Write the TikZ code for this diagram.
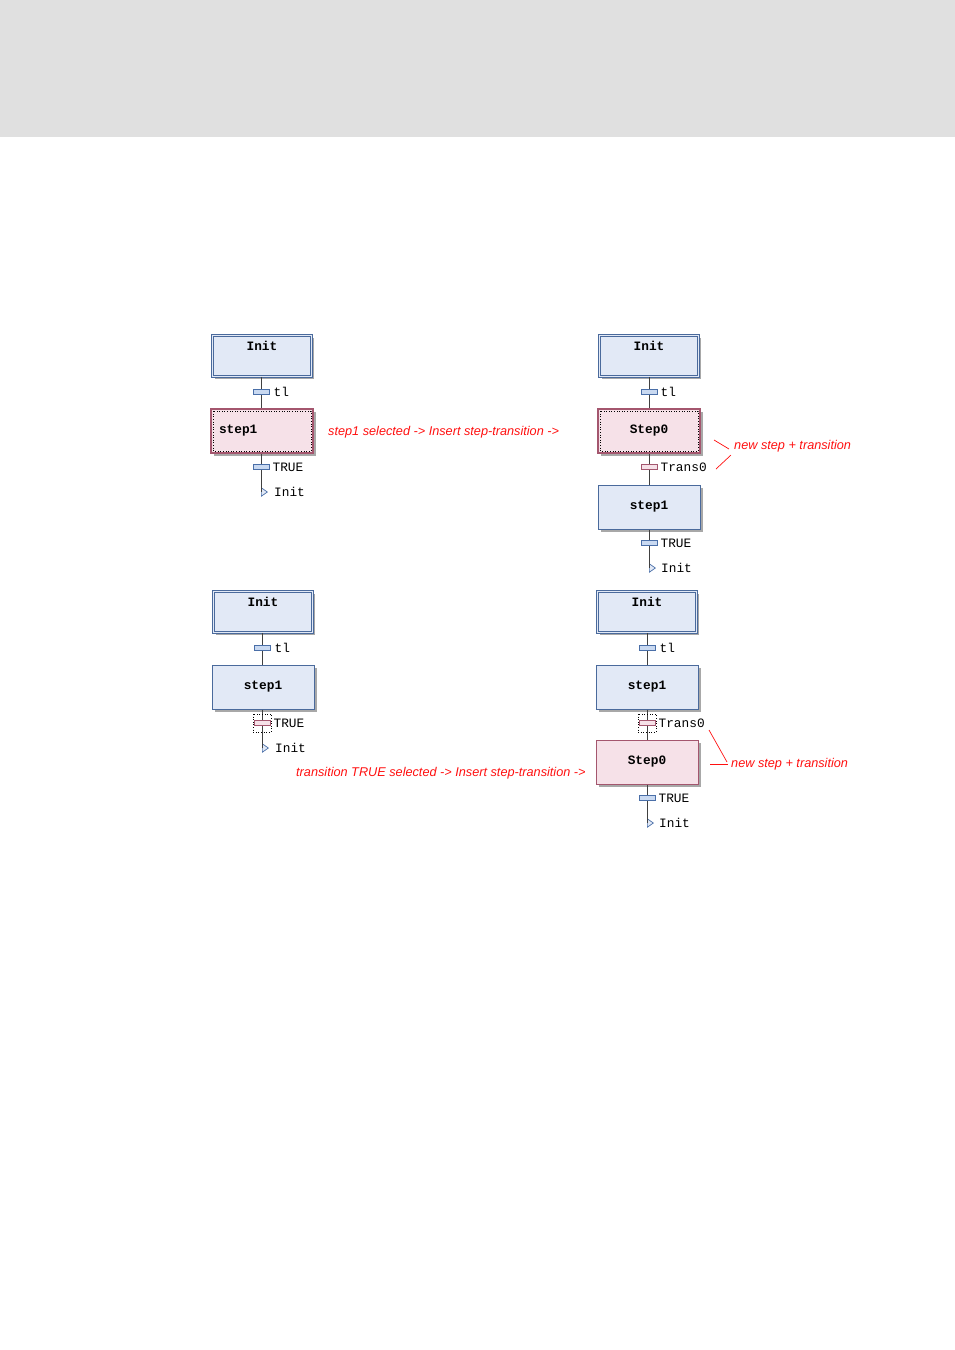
\documentclass[tikz,border=0pt]{standalone}
\usepackage{fontspec}
\setmainfont{Liberation Sans}
\newfontfamily\monof{Liberation Mono}
\usetikzlibrary{shadows,shapes.geometric,calc}
\definecolor{headgray}{HTML}{E0E0E0}
\definecolor{bfill}{HTML}{E2E9F6}
\definecolor{bborder}{HTML}{4A6A9C}
\definecolor{pfill}{HTML}{F6E1E8}
\definecolor{pborder}{HTML}{A4566E}
\definecolor{shgray}{HTML}{A8A8A8}
\definecolor{tfill}{HTML}{C9D9F1}
\definecolor{tborder}{HTML}{4A6FA8}
\definecolor{annred}{HTML}{FF1010}
\definecolor{linegray}{HTML}{404040}
\begin{document}
\begin{tikzpicture}[x=1pt,y=-1pt,
  box/.style={minimum width=102pt, minimum height=44pt, inner sep=0pt,
    font=\monof\bfseries\fontsize{12.8}{14}\selectfont,
    drop shadow={shadow xshift=2.5pt,shadow yshift=-2.5pt,fill=shgray,opacity=1}},
  initbox/.style={box, minimum width=99pt, minimum height=41pt, fill=bfill, draw=bborder, line width=0.9pt, double=bfill, double distance=1.6pt,
    text height=9pt, text depth=20pt},
  bluebox/.style={box, fill=bfill, draw=bborder, line width=1pt},
  pinkbox/.style={box, fill=pfill, draw=pborder, line width=1pt},
  selbox/.style={box, fill=pfill, draw=pborder, line width=1.6pt},
  trans/.style={draw=tborder, fill=tfill, line width=0.8pt, minimum width=16pt, minimum height=5.5pt, inner sep=0pt},
  transsel/.style={draw=pborder, fill=pfill, line width=0.8pt, minimum width=16pt, minimum height=5.5pt, inner sep=0pt},
  jump/.style={isosceles triangle, isosceles triangle apex angle=70, draw=tborder, fill=bfill, line width=0.7pt,
    minimum height=6pt, minimum width=8pt, inner sep=0pt, anchor=west},
  tlabel/.style={anchor=west, inner sep=0pt, font=\monof\fontsize{12.8}{14}\selectfont},
  ann/.style={annred, font=\itshape\fontsize{12.7}{14}\selectfont, inner sep=0pt},
  annline/.style={annred, line width=0.7pt},
  flow/.style={linegray, line width=1pt},
  selframe/.style={black, dotted, line width=0.6pt}
]
\useasboundingbox (0,0) rectangle (955,1350);
\fill[headgray] (0,0) rectangle (955,137);

% ---------- top-left ----------
\node[initbox] (a1) at (262,356) {Init};
\node[selbox, text width=86pt, align=left] (a2) at (262,431) {step1};
\draw[selframe] ($(a2.north west)+(3,3)$) rectangle ($(a2.south east)+(-3,-3)$);
\coordinate (aj) at (261,492);
\node[jump] (a5) at (aj) {};
\draw[flow] (a1.south -| aj) -- (a2.north -| aj);
\draw[flow] (a2.south -| aj) -- (a5.west);
\node[trans] (a3) at (261,392) {};
\node[trans] (a4) at (261,467) {};
\node[tlabel] (a3l) at ([xshift=4pt]a3.east) {tl};
\node[tlabel] (a4l) at ([xshift=3pt]a4.east) {TRUE};
\node[tlabel] (a5l) at (274,492) {Init};
\node[ann, anchor=west] (n1) at (328,432) {step1 selected -> Insert step-transition ->};

% ---------- top-right ----------
\node[initbox] (b1) at (649,356) {Init};
\node[selbox] (b2) at (649,431) {Step0};
\draw[selframe] ($(b2.north west)+(3,3)$) rectangle ($(b2.south east)+(-3,-3)$);
\node[bluebox] (b3) at (649,507) {step1};
\coordinate (bj) at (649,568);
\node[jump] (b6) at (bj) {};
\draw[flow] (b1.south) -- (b2.north);
\draw[flow] (b2.south) -- (b3.north);
\draw[flow] (b3.south) -- (b6.west);
\node[trans] (b4) at (649,392) {};
\node[transsel] (b5) at (649,467) {};
\node[trans] (b7) at (649,543) {};
\node[tlabel] (b4l) at ([xshift=3pt]b4.east) {tl};
\node[tlabel] (b5l) at ([xshift=3pt]b5.east) {Trans0};
\node[tlabel] (b7l) at ([xshift=3pt]b7.east) {TRUE};
\node[tlabel] (b6l) at (661,568) {Init};
\node[ann, anchor=west] (n2) at (734,446) {new step + transition};
\coordinate (n2a) at (714,440);
\coordinate (n2b) at (729,449);
\coordinate (n2c) at (716,469);
\coordinate (n2d) at (731,455);
\draw[annline] (n2a) -- (n2b);
\draw[annline] (n2c) -- (n2d);

% ---------- bottom-left ----------
\node[initbox] (c1) at (263,612) {Init};
\node[bluebox] (c2) at (263,687) {step1};
\coordinate (cj) at (262,748);
\node[jump] (c4) at (cj) {};
\draw[flow] (c1.south -| cj) -- (c2.north -| cj);
\draw[flow] (c2.south -| cj) -- (c4.west);
\node[trans] (c3) at (262,648) {};
\node[transsel] (c5) at (262,723) {};
\draw[selframe] ($(c5.center)+(-9,-9)$) rectangle ($(c5.center)+(9,9)$);
\node[tlabel] (c3l) at ([xshift=4pt]c3.east) {tl};
\node[tlabel] (c5l) at ([xshift=3pt]c5.east) {TRUE};
\node[tlabel] (c4l) at (275,748) {Init};
\node[ann, anchor=west] (n3) at (296,773) {transition TRUE selected -> Insert step-transition ->};

% ---------- bottom-right ----------
\node[initbox] (d1) at (647,612) {Init};
\node[bluebox] (d2) at (647,687) {step1};
\node[pinkbox] (d3) at (647,762) {Step0};
\coordinate (dj) at (647,823);
\node[jump] (d7) at (dj) {};
\draw[flow] (d1.south) -- (d2.north);
\draw[flow] (d2.south) -- (d3.north);
\draw[flow] (d3.south) -- (d7.west);
\node[trans] (d4) at (647,648) {};
\node[transsel] (d5) at (647,723) {};
\draw[selframe] ($(d5.center)+(-9,-9)$) rectangle ($(d5.center)+(9,9)$);
\node[trans] (d6) at (647,798) {};
\node[tlabel] (d4l) at ([xshift=4pt]d4.east) {tl};
\node[tlabel] (d5l) at ([xshift=3pt]d5.east) {Trans0};
\node[tlabel] (d6l) at ([xshift=3pt]d6.east) {TRUE};
\node[tlabel] (d7l) at (659,823) {Init};
\node[ann, anchor=west] (n4) at (731,764) {new step + transition};
\coordinate (n4a) at (709,730);
\coordinate (n4b) at (727,762);
\coordinate (n4c) at (710,764);
\coordinate (n4d) at (728,764);
\draw[annline] (n4a) -- (n4b);
\draw[annline] (n4c) -- (n4d);
\end{tikzpicture}
\end{document}
